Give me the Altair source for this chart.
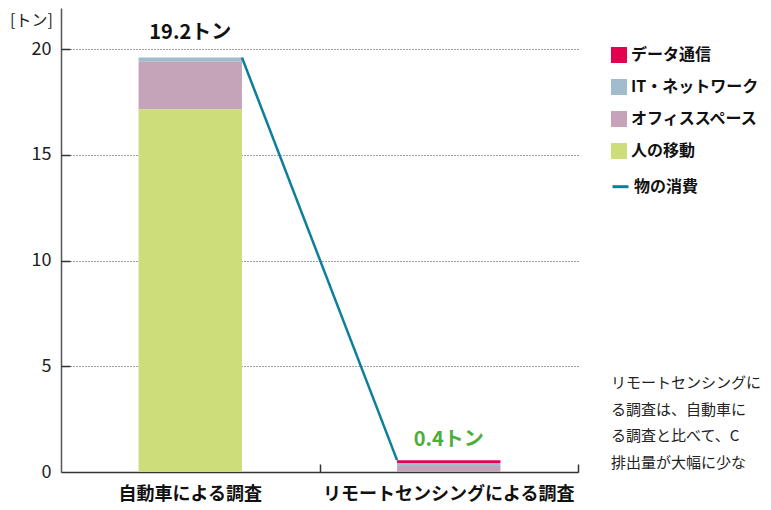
import altair as alt
import pandas as pd

# ---- data ----
categories = ["自動車による調査", "リモートセンシングによる調査"]
series = ["データ通信", "IT・ネットワーク", "オフィススペース", "人の移動"]
data_comm = [0.0, 0.13]
it_network = [0.2, 0.15]
office = [2.25, 0.28]
people = [17.15, 0.0]
line_name = "物の消費"
total_labels = ["19.2トン", "0.4トン"]
# visible part of the note (the reference cuts it at the right edge)
note_lines = ["リモートセンシングに", "る調査は、自動車に", "る調査と比べて、C", "排出量が大幅に少な"]
y_ticks = [0, 5, 10, 15, 20]

# ---- styles ----
FONT = "Noto Sans CJK JP"
colors = ["#e5004f", "#a3bccb", "#c5a3b8", "#cddd7a"]
line_color = "#0e7f9b"
label_colors = ["#111111", "#4cad38"]
label_dy = [-24, -20]
BAR_FRAC = 0.4
Y_MAX = 21.94

series_values = [data_comm, it_network, office, people]
rows = []
for s_i, (name, vals) in enumerate(zip(series, series_values)):
    for c_i, cat in enumerate(categories):
        rows.append({"cat": cat, "series": name, "value": vals[c_i],
                     "ord": len(series) - 1 - s_i})
bar_df = pd.DataFrame(rows)

totals = [sum(v[i] for v in series_values) for i in range(len(categories))]
label_df = pd.DataFrame({"cat": categories, "total": totals, "label": total_labels})

# line from right edge of bar 1 to left edge of bar 2
line_df = pd.DataFrame({
    "lx": [0 + 0.5 + BAR_FRAC / 2, 1 + 0.5 - BAR_FRAC / 2],
    "ly": totals,
    "name": [line_name, line_name],
})

y_scale = alt.Scale(domain=[0, Y_MAX], nice=False)

legend_common = dict(
    title=None, orient="none", padding=0, symbolSize=256,
    labelFontSize=16, labelFontWeight="bold", labelColor="#111", labelFont=FONT,
    rowPadding=16, labelOffset=4, labelLimit=0,
)

bars = alt.Chart(bar_df).mark_bar(width=alt.RelativeBandSize(BAR_FRAC)).encode(
    x=alt.X("cat:N", sort=categories,
            scale=alt.Scale(paddingInner=0, paddingOuter=0),
            axis=alt.Axis(title=None, labelAngle=0, labelFontSize=18, labelFontWeight="bold",
                          labelColor="#111", labelPadding=13, labelLimit=0, ticks=False, tickSize=0,
                          domainColor="#333", domainWidth=1.5, grid=False, labelFont=FONT)),
    y=alt.Y("value:Q", stack="zero", scale=y_scale,
            axis=alt.Axis(values=y_ticks, title="[トン]", titleAngle=0, titleX=-30, titleY=4,
                          titleAlign="center", titleBaseline="top", titleFontSize=16,
                          titleFontWeight="normal", titleColor="#222", titleFont=FONT,
                          labelFontSize=18, labelColor="#222", labelPadding=10, labelFont=FONT,
                          ticks=False, tickSize=0, domainColor="#555", domainWidth=1.5,
                          grid=True, gridDash=[1, 2], gridColor="#444", gridWidth=1)),
    color=alt.Color("series:N", scale=alt.Scale(domain=series, range=colors),
                    legend=alt.Legend(legendX=550, legendY=39, symbolType="square",
                                      symbolStrokeWidth=0, **legend_common)),
    order=alt.Order("ord:Q", sort="ascending"),
)

label_layers = []
for i, cat in enumerate(categories):
    label_layers.append(
        alt.Chart(label_df).transform_filter(alt.datum.cat == cat).mark_text(
            fontSize=20, fontWeight="bold", baseline="middle", font=FONT,
            dy=label_dy[i], color=label_colors[i]
        ).encode(
            x=alt.X("cat:N", sort=categories),
            y=alt.Y("total:Q", scale=y_scale),
            text="label:N",
        )
    )

note = alt.Chart(pd.DataFrame({"k": [0]})).mark_text(
    align="left", baseline="top", fontSize=15, lineHeight=26.7, color="#222", font=FONT
).encode(x=alt.value(550), y=alt.value(368), text=alt.value(note_lines))

inner = alt.layer(bars, *label_layers, note)

line = alt.Chart(line_df).mark_line(strokeWidth=2.5).encode(
    x=alt.X("lx:Q", scale=alt.Scale(domain=[0, 2], nice=False, zero=False),
            axis=alt.Axis(values=[1, 2], orient="bottom", offset=-8, tickSize=8, labels=False,
                          domain=False, grid=False, title=None, tickColor="#333", tickWidth=1.5)),
    y=alt.Y("ly:Q", scale=y_scale,
            axis=alt.Axis(values=[5, 10, 15, 20], orient="left", offset=-9, tickSize=9,
                          labels=False, domain=False, grid=False, title=None,
                          tickColor="#333", tickWidth=1.5)),
    stroke=alt.Stroke("name:N", scale=alt.Scale(domain=[line_name], range=[line_color]),
                      legend=alt.Legend(legendX=550, legendY=40 + 4 * 32.3, symbolType="stroke",
                                        symbolStrokeWidth=3, **legend_common)),
)

chart = alt.layer(inner, line).resolve_scale(x="independent", y="independent").properties(
    width=517, height=464,
    autosize=alt.AutoSizeParams(type="none"),
    padding={"left": 53, "top": 0, "right": 185, "bottom": 34},
).configure(font=FONT).configure_view(stroke=None)

chart.save("out.html", embed_options={"renderer": "svg", "actions": False})
